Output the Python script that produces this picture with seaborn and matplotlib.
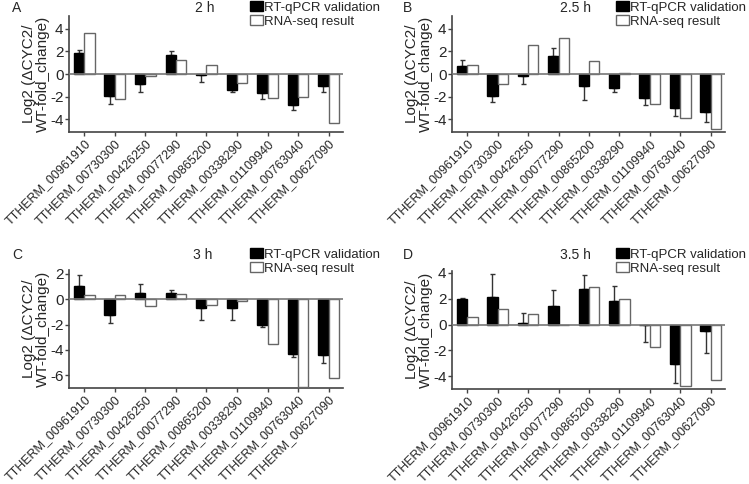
import numpy as np
import pandas as pd
import matplotlib
matplotlib.use("Agg")
import matplotlib.pyplot as plt
import matplotlib.transforms as mtransforms
import seaborn as sns
from matplotlib.patches import Patch

genes = ["TTHERM_00961910", "TTHERM_00730300", "TTHERM_00426250", "TTHERM_00077290",
         "TTHERM_00865200", "TTHERM_00338290", "TTHERM_01109940", "TTHERM_00763040",
         "TTHERM_00627090"]
series_names = ["RT-qPCR validation", "RNA-seq result"]
panel_letters = ["A", "B", "C", "D"]
panel_titles = ["2 h", "2.5 h", "3 h", "3.5 h"]
ylabel_text = "Log2 (\u0394CYC2/\nWT-fold_change)"

qpcr_2h = [1.84, -1.90, -0.86, 1.70, -0.12, -1.44, -1.70, -2.70, -1.04]
err_2h = [0.30, 0.70, 0.72, 0.30, 0.60, 0.12, 0.50, 0.50, 0.50]
rnaseq_2h = [3.60, -2.20, -0.15, 1.20, 0.75, -0.75, -2.07, -2.04, -4.32]

qpcr_25h = [0.69, -1.90, -0.14, 1.58, -1.04, -1.20, -2.10, -3.02, -3.34]
err_25h = [0.50, 0.55, 0.75, 0.70, 1.26, 0.35, 0.60, 0.65, 0.90]
rnaseq_25h = [0.80, -0.86, 2.53, 3.17, 1.18, 0.05, -2.65, -3.83, -4.80]

qpcr_3h = [1.04, -1.22, 0.47, 0.52, -0.73, -0.68, -2.03, -4.31, -4.42]
err_3h = [0.83, 0.68, 0.70, 0.18, 0.90, 0.96, 0.15, 0.26, 0.60]
rnaseq_3h = [0.31, 0.36, -0.55, 0.44, -0.42, -0.13, -3.53, -6.93, -6.25]

qpcr_35h = [1.96, 2.17, 0.15, 1.45, 2.74, 1.86, -0.05, -3.07, -0.52]
err_35h = [0.13, 1.78, 0.78, 1.20, 1.08, 1.10, 1.30, 1.47, 1.65]
rnaseq_35h = [0.59, 1.19, 0.83, -0.05, 2.92, 1.96, -1.75, -4.73, -4.31]

panels = [
    (qpcr_2h, err_2h, rnaseq_2h, (-5.1, 5.1), [-4, -2, 0, 2, 4]),
    (qpcr_25h, err_25h, rnaseq_25h, (-5.1, 5.1), [-4, -2, 0, 2, 4]),
    (qpcr_3h, err_3h, rnaseq_3h, (-7.0, 2.3), [-6, -4, -2, 0, 2]),
    (qpcr_35h, err_35h, rnaseq_35h, (-5.0, 4.15), [-4, -2, 0, 2, 4]),
]

sns.set_theme(style="ticks")
plt.rcParams["font.family"] = ["Liberation Sans", "DejaVu Sans"]
plt.rcParams["axes.unicode_minus"] = False

W, H = 749, 484
fig = plt.figure(figsize=(W / 100, H / 100), dpi=100)

# pixel boxes: left, right, top, bottom
boxes = [(69, 343, 16, 132), (452, 725, 16, 132), (69, 343, 270, 388), (452, 725, 271, 389)]
letter_pos = [(12, 8), (403, 8), (12, 255), (403, 255)]
title_pos = [(205, 8), (575, 8), (203, 255), (575, 255)]
legend_pos = [(250, 1), (616, 1), (250, 248), (616, 248)]

fs = 9.5
spine_col = "#444444"
shift = mtransforms.ScaledTranslation(5 / 100, 0, fig.dpi_scale_trans)

for i, (q, e, r, ylim, yticks) in enumerate(panels):
    l, rr, t, b = boxes[i]
    ax = fig.add_axes([l / W, 1 - b / H, (rr - l) / W, (b - t) / H])
    df = pd.DataFrame({
        "gene": genes * 2,
        "value": list(q) + list(r),
        "series": [series_names[0]] * len(genes) + [series_names[1]] * len(genes),
    })
    sns.barplot(data=df, x="gene", y="value", hue="series", hue_order=series_names,
                palette=["black", "white"], width=0.68, errorbar=None, ax=ax,
                legend=False, linewidth=1.0, zorder=3)
    for bar in ax.containers[0]:
        bar.set_edgecolor("black")
    for bar in ax.containers[1]:
        bar.set_edgecolor("#666666")
    for bar, v, er in zip(ax.containers[0], q, e):
        x = bar.get_x() + bar.get_width() / 2
        lo, up = (0, er) if v >= 0 else (er, 0)
        ax.errorbar(x, v, yerr=[[lo], [up]], fmt="none", ecolor="#333333",
                    elinewidth=1.0, capsize=1.8, capthick=1.0, zorder=2)
    ax.axhline(0, color="#777777", lw=1.2, zorder=4)
    ax.set_ylim(*ylim)
    ax.set_yticks(yticks)
    ax.set_xlim(-0.5, 8.47)
    ax.set_xticks(range(len(genes)))
    ax.set_xticklabels(genes, rotation=45, ha="right", rotation_mode="anchor", fontsize=9)
    for lab in ax.get_xticklabels():
        lab.set_transform(lab.get_transform() + shift)
    ax.tick_params(axis="y", labelsize=fs + 1.5, length=3, width=1, color=spine_col, pad=1)
    ax.tick_params(axis="x", length=3, width=1, color=spine_col, pad=1)
    ax.set_xlabel("")
    ax.set_ylabel(ylabel_text, fontsize=fs + 1.5, labelpad=0, linespacing=0.95)
    sns.despine(ax=ax)
    for s in ["left", "bottom"]:
        ax.spines[s].set_color(spine_col)
        ax.spines[s].set_linewidth(1.2)

    fig.text(letter_pos[i][0] / W, 1 - letter_pos[i][1] / H, panel_letters[i],
             fontsize=fs + 0.5, ha="left", va="center")
    fig.text(title_pos[i][0] / W, 1 - title_pos[i][1] / H, panel_titles[i],
             fontsize=fs + 0.5, ha="center", va="center")
    handles = [Patch(facecolor="black", edgecolor="black", lw=1.0),
               Patch(facecolor="white", edgecolor="#666666", lw=1.0)]
    fig.legend(handles, series_names, loc="upper left",
               bbox_to_anchor=(legend_pos[i][0] / W, 1 - legend_pos[i][1] / H),
               frameon=False, fontsize=fs, handlelength=0.95, handleheight=0.8,
               handletextpad=0.1, labelspacing=0.1, borderpad=0, borderaxespad=0)

fig.savefig("out.png", dpi=100)
